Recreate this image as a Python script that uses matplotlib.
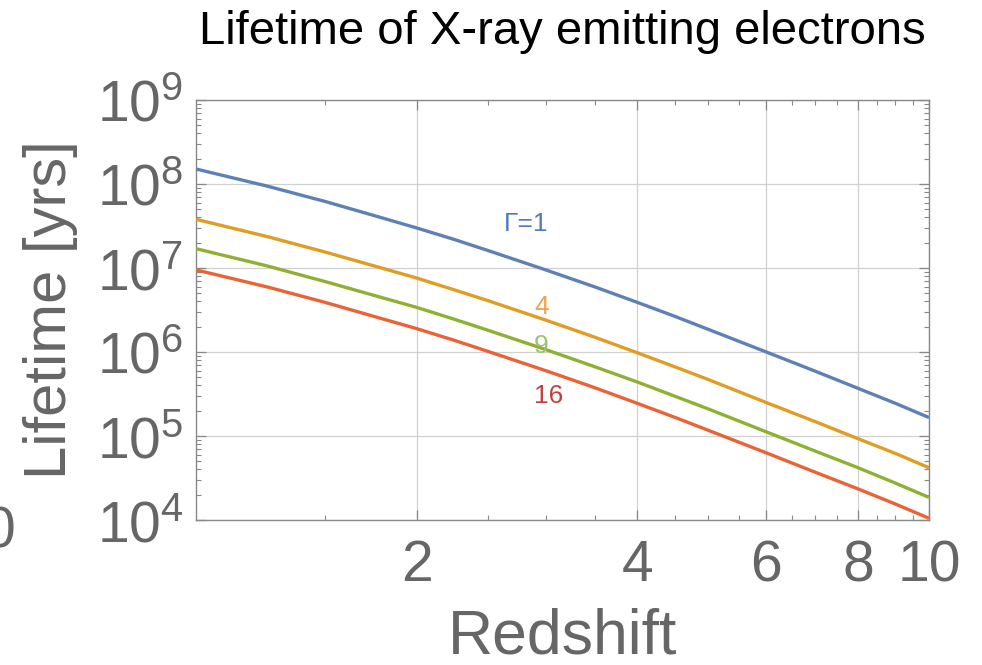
import matplotlib
matplotlib.use("Agg")
import matplotlib.pyplot as plt
from matplotlib.ticker import FixedLocator, NullFormatter
import numpy as np

plt.rcParams['font.family'] = ['Liberation Sans', 'DejaVu Sans']
plt.rcParams['mathtext.default'] = 'regular'

# redshift samples and electron lifetimes [yrs] for each Lorentz factor
redshift = [1, 1.25, 1.5, 1.75, 2, 2.25, 2.5, 3, 3.5, 4, 4.5, 5, 6, 7, 8, 9, 10]
life_g1 = [1.51e8, 9.45e7, 6.2e7, 4.21e7, 3.0e7, 2.19e7, 1.62e7, 9.5e6, 5.96e6,
           3.9e6, 2.66e6, 1.86e6, 1.0e6, 5.9e5, 3.7e5, 2.45e5, 1.66e5]
life_g4 = [3.8e7, 2.37e7, 1.55e7, 1.06e7, 7.6e6, 5.5e6, 4.1e6, 2.4e6, 1.50e6,
           9.8e5, 6.67e5, 4.7e5, 2.5e5, 1.48e5, 9.3e4, 6.2e4, 4.2e4]
life_g9 = [1.7e7, 1.06e7, 6.9e6, 4.72e6, 3.4e6, 2.46e6, 1.82e6, 1.07e6, 6.68e5,
           4.4e5, 2.98e5, 2.1e5, 1.12e5, 6.6e4, 4.2e4, 2.75e4, 1.86e4]
life_g16 = [9.5e6, 5.96e6, 3.9e6, 2.65e6, 1.9e6, 1.38e6, 1.02e6, 6.0e5, 3.76e5,
            2.45e5, 1.67e5, 1.17e5, 6.3e4, 3.7e4, 2.35e4, 1.55e4, 1.05e4]

gammas = ['Γ=1', '4', '9', '16']
line_colors = ['#5E81B5', '#E19C24', '#8FB032', '#EB6235']
label_colors = ['#4F7CC0', '#F0A050', '#9CC46C', '#C2403D']
label_pos = [(2.82, 3.34e7), (2.96, 3.43e6), (2.96, 1.18e6), (3.03, 3.0e5)]

xticks = [2, 4, 6, 8, 10]
yticks = [1e4, 1e5, 1e6, 1e7, 1e8, 1e9]

grey = '#666666'

fig = plt.figure(figsize=(9.82, 6.65), dpi=100)
ax = fig.add_axes([0.1996, 0.218, 0.7464, 0.6316])

for y, c in zip([life_g1, life_g4, life_g9, life_g16], line_colors):
    ax.plot(redshift, y, color=c, lw=2.4, solid_capstyle='butt', zorder=3)

for txt, (x, y), c in zip(gammas, label_pos, label_colors):
    ax.text(x, y, txt, color=c, fontsize=19, ha='center', va='center', zorder=4)

ax.set_xscale('log')
ax.set_yscale('log')
ax.set_xlim(1, 10)
ax.set_ylim(1e4, 1e9)

ax.xaxis.set_major_locator(FixedLocator(xticks))
ax.xaxis.set_minor_locator(FixedLocator(np.arange(1.5, 10, 0.5)))
ax.set_xticklabels([str(v) for v in xticks])
ax.xaxis.set_minor_formatter(NullFormatter())

ax.yaxis.set_major_locator(FixedLocator(yticks))
minor_y = [m * 10.0 ** e for e in range(4, 9) for m in range(2, 10)]
ax.yaxis.set_minor_locator(FixedLocator(minor_y))
ax.set_yticklabels([r'$10^{%d}$' % int(np.log10(v)) for v in yticks])
ax.yaxis.set_minor_formatter(NullFormatter())

ax.grid(True, which='major', color='#d0d0d0', lw=0.9, zorder=0)
ax.tick_params(which='both', direction='in', top=True, right=True, color='#888888')
ax.tick_params(which='major', length=7, width=0.9)
ax.tick_params(which='minor', length=3.5, width=0.8)
ax.tick_params(axis='x', which='major', labelsize=41, labelcolor=grey, pad=14)
ax.tick_params(axis='y', which='major', labelsize=41, labelcolor=grey, pad=9)
for s in ax.spines.values():
    s.set_color('#888888')
    s.set_linewidth(1.0)

ax.set_xlabel('Redshift', fontsize=45, color=grey, labelpad=10)
ax.set_ylabel('Lifetime [yrs]', fontsize=43, color=grey)
ax.yaxis.set_label_coords(-0.161, 0.5)
ax.set_title('Lifetime of X-ray emitting electrons', fontsize=34, color='black', pad=40)

# stray label from a neighbouring panel, clipped at the left edge
fig.text(15 / 982, 1 - 532 / 665, '0', fontsize=41, color=grey, ha='right', va='center')

fig.savefig('out.png', dpi=100)
